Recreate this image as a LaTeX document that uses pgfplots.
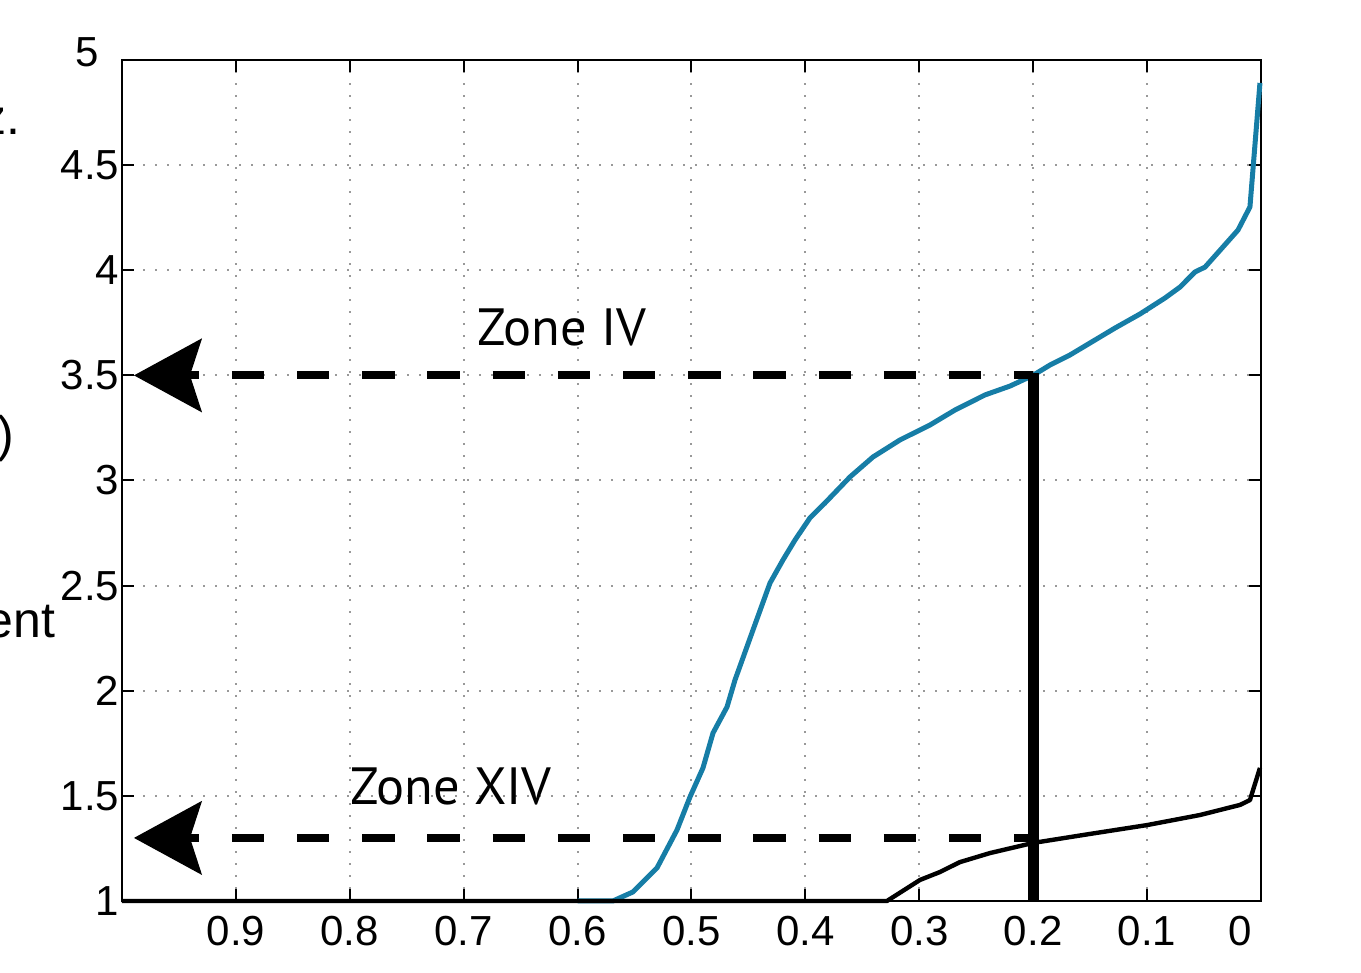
\documentclass[border=0pt]{standalone}
\usepackage{fontspec}
\setmainfont{Liberation Sans}
\newfontfamily\zonefont{PT Sans}
\usepackage{pgfplots}
\pgfplotsset{compat=1.18}
\usetikzlibrary{arrows.meta}
\definecolor{curveblue}{RGB}{22,125,166}

\begin{document}
\begin{tikzpicture}
\useasboundingbox (-30.5pt,-18pt) rectangle (309.75pt,225.25pt);
\begin{axis}[
  at={(0pt,0pt)}, anchor=south west,
  scale only axis, width=284.75pt, height=210.25pt,
  xmin=0, xmax=1, ymin=1, ymax=5, x dir=reverse,
  clip=false,
  axis line style={line width=0.6pt},
  xtick={0,0.1,0.2,0.3,0.4,0.5,0.6,0.7,0.8,0.9},
  xticklabels={,0.1,0.2,0.3,0.4,0.5,0.6,0.7,0.8,0.9},
  ytick={1,1.5,2,2.5,3,3.5,4,4.5,5},
  yticklabels={1,1.5,2,2.5,3,3.5,4,4.5,{}},
  tick label style={font=\fontsize{10.5}{12}\selectfont},
  xticklabel style={inner sep=0pt, yshift=-3.5pt},
  yticklabel style={inner sep=0pt, xshift=-0.5pt},
  major tick length=3pt,
  tick style={black, line width=0.5pt},
  tick align=inside,
  grid=major,
  major grid style={gray!80, line width=0.5pt, dash pattern=on 0.6pt off 2.4pt},
]
% blue curve
\addplot[curveblue, line width=1.25pt, line join=round] coordinates {
(0.60,1.0) (0.569,1.0) (0.5514,1.043) (0.5303,1.157) (0.5127,1.338) (0.5013,1.495)
(0.4899,1.633) (0.4811,1.799) (0.4688,1.923) (0.4618,2.051) (0.4460,2.289)
(0.4311,2.512) (0.4197,2.622) (0.4091,2.717) (0.3960,2.822) (0.3828,2.893)
(0.3608,3.017) (0.3406,3.112) (0.3169,3.193) (0.2906,3.264) (0.2687,3.335)
(0.2423,3.407) (0.2204,3.449) (0.2002,3.50) (0.1853,3.549) (0.1677,3.597)
(0.1501,3.654) (0.1282,3.725) (0.1062,3.792) (0.0843,3.868) (0.0711,3.920)
(0.0579,3.992) (0.0491,4.015) (0.0202,4.191) (0.0097,4.301) (0.0009,4.891)
};
% black curve
\addplot[black, line width=1.1pt, line join=round] coordinates {
(1,1) (0.3284,1.0) (0.2994,1.100) (0.2818,1.138) (0.2643,1.185) (0.2379,1.228)
(0.2002,1.276) (0.1501,1.319) (0.1001,1.361) (0.0535,1.409) (0.0184,1.457)
(0.0097,1.480) (0.0009,1.633)
};
% dashed guides
\addplot[black, line width=2pt, dash pattern=on 8.1pt off 8.2pt] coordinates {(0.9608,3.5) (0.2,3.5)};
\addplot[black, line width=2pt, dash pattern=on 8.1pt off 8.2pt] coordinates {(0.9608,1.3) (0.2,1.3)};
\addplot[black, line width=2pt, -{Stealth[length=17pt,width=18.5pt,inset=3pt,line width=0.3pt]}] coordinates {(0.9608,3.5) (0.98946,3.5)};
\addplot[black, line width=2pt, -{Stealth[length=17pt,width=18.5pt,inset=3pt,line width=0.3pt]}] coordinates {(0.9608,1.3) (0.98946,1.3)};
% vertical line at 0.2
\addplot[black, line width=2.75pt] coordinates {(0.2,1) (0.2,3.51)};
\node[anchor=base west, inner sep=0pt, font=\zonefont\fontsize{13.1}{15}\selectfont] at (axis cs:0.6883,3.644) {Zone IV};
\node[anchor=base west, inner sep=0pt, font=\zonefont\fontsize{13.1}{15}\selectfont] at (axis cs:0.7998,1.457) {Zone XIV};
\end{axis}
\node[anchor=east, inner sep=0pt, font=\fontsize{10.5}{12}\selectfont] at (-5.5pt,212.25pt) {5};
\node[anchor=north, inner sep=0pt, font=\fontsize{10.5}{12}\selectfont] at (279.5pt,-3.5pt) {0};
\node[anchor=base east, inner sep=0pt, font=\fontsize{12.5}{14}\selectfont] at (-25.25pt,191.5pt) {z.};
\node[anchor=base east, inner sep=0pt, font=\fontsize{12.5}{14}\selectfont] at (-26.75pt,112.25pt) {)};
\node[anchor=base east, inner sep=0pt, font=\fontsize{12.5}{14}\selectfont] at (-16.5pt,65.75pt) {ent};
\end{tikzpicture}
\end{document}
